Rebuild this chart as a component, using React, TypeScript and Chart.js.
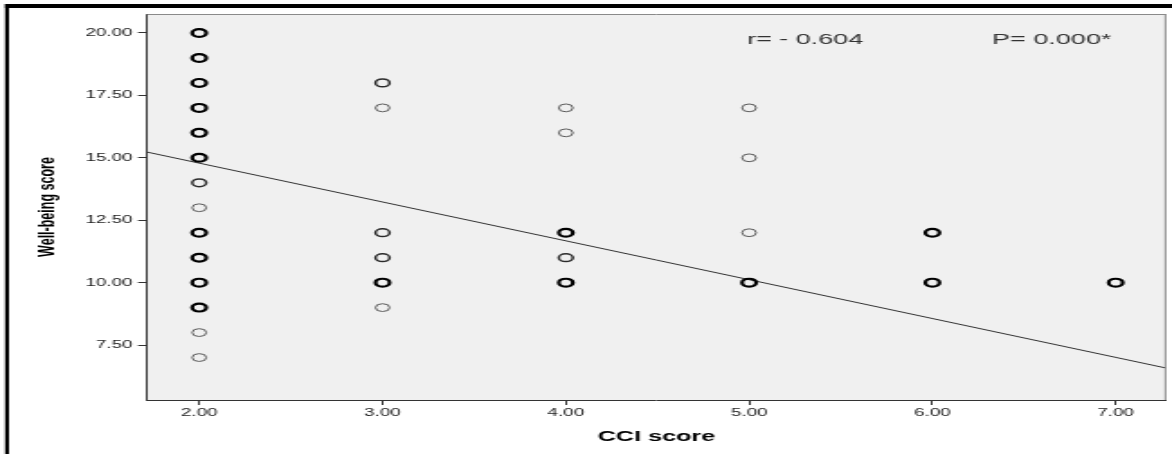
import { useEffect, useRef } from "react";
import { Chart, registerables } from "chart.js";

Chart.register(...registerables);

// ---- data ----
const xTicks = [2, 3, 4, 5, 6, 7];
const yTicks = [7.5, 10, 12.5, 15, 17.5, 20];

// cases with many overlapping respondents (thick circles)
const heavyX = [2, 2, 2, 2, 2, 2, 2, 2, 2, 2, 3, 4, 4, 5, 6, 6, 7];
const heavyY = [20, 19, 18, 17, 16, 15, 12, 11, 10, 9, 10, 12, 10, 10, 12, 10, 10];
// a few overlapping respondents (medium circles)
const mediumX = [2, 3, 3, 3, 4];
const mediumY = [14, 18, 12, 11, 11];
// single respondents (thin circles)
const lightX = [2, 2, 2, 3, 3, 4, 4, 5, 5, 5];
const lightY = [13, 8, 7, 17, 9, 17, 16, 17, 15, 12];

// fit line end points (at the x-axis limits)
const regX = [1.715, 7.2745];
const regY = [15.23, 6.58];

const annotationR = "r= - 0.604";
const annotationP = "P= 0.000*";
const xTitle = "CCI score";
const yTitle = "Well-being score";

// ---- layout ----
const OUT_W = 1172;
const H = 454;
const W = 651; // internal canvas width, stretched horizontally to OUT_W
const S = OUT_W / W;
const FONT = '"Liberation Sans", Arial, sans-serif';

const toPts = (xs: number[], ys: number[]) => xs.map((x, i) => ({ x, y: ys[i] }));

const framePlugin = {
  id: "frame",
  beforeDraw(chart: any) {
    const { ctx, chartArea } = chart;
    ctx.save();
    ctx.fillStyle = "#ffffff";
    ctx.fillRect(0, 0, W, H);
    ctx.fillStyle = "#f0f0f0";
    ctx.fillRect(chartArea.left, chartArea.top, chartArea.right - chartArea.left, chartArea.bottom - chartArea.top);
    ctx.fillStyle = "#000000";
    ctx.fillRect(5 / S, 4, 4 / S, H - 4);
    ctx.fillRect(5 / S, 4, W, 4);
    ctx.restore();
  },
  afterDraw(chart: any) {
    const { ctx, chartArea } = chart;
    ctx.save();
    ctx.strokeStyle = "#8a8a8a";
    ctx.lineWidth = 1;
    ctx.beginPath();
    ctx.moveTo(chartArea.left, chartArea.top + 0.5);
    ctx.lineTo(chartArea.right, chartArea.top + 0.5);
    ctx.moveTo(chartArea.right - 0.3, chartArea.top);
    ctx.lineTo(chartArea.right - 0.3, chartArea.bottom);
    ctx.stroke();
    ctx.fillStyle = "#333333";
    ctx.font = `15px ${FONT}`;
    ctx.textBaseline = "middle";
    ctx.textAlign = "left";
    ctx.fillText(annotationR, 747 / S, 40);
    ctx.fillText(annotationP, 992 / S, 40);
    ctx.restore();
  },
};

export default function App() {
  const ref = useRef<HTMLCanvasElement | null>(null);

  useEffect(() => {
    if (!ref.current) return;
    const chart = new Chart(ref.current, {
      type: "scatter",
      data: {
        datasets: [
          {
            label: "many",
            data: toPts(heavyX, heavyY),
            pointStyle: "circle",
            pointRadius: 3.9,
            pointBorderWidth: 2.2,
            pointBorderColor: "#000000",
            pointBackgroundColor: "rgba(0,0,0,0)",
          },
          {
            label: "few",
            data: toPts(mediumX, mediumY),
            pointStyle: "circle",
            pointRadius: 3.9,
            pointBorderWidth: 1.5,
            pointBorderColor: "#2a2a2a",
            pointBackgroundColor: "rgba(0,0,0,0)",
          },
          {
            label: "single",
            data: toPts(lightX, lightY),
            pointStyle: "circle",
            pointRadius: 3.9,
            pointBorderWidth: 1,
            pointBorderColor: "#5a5a5a",
            pointBackgroundColor: "rgba(0,0,0,0)",
          },
          {
            type: "line",
            label: "fit",
            data: toPts(regX, regY),
            showLine: true,
            borderColor: "#333333",
            borderWidth: 1,
            pointRadius: 0,
            fill: false,
          } as any,
        ],
      },
      options: {
        responsive: false,
        animation: false,
        devicePixelRatio: 1,
        layout: { autoPadding: false, padding: { top: 14, right: W - 1166 / S, left: 0, bottom: 0 } },
        plugins: { legend: { display: false }, tooltip: { enabled: false } },
        scales: {
          x: {
            type: "linear",
            min: regX[0],
            max: regX[1],
            afterBuildTicks: (s: any) => {
              s.ticks = xTicks.map((v) => ({ value: v }));
            },
            afterFit: (s: any) => {
              s.height = 54;
              s.paddingLeft = 0;
              s.paddingRight = 0;
            },
            ticks: {
              autoSkip: false,
              maxRotation: 0,
              padding: 2,
              color: "#222222",
              font: { family: FONT, size: 10.5 },
              callback: (v: any) => Number(v).toFixed(2),
            },
            grid: { drawOnChartArea: false, drawTicks: true, tickLength: 5, color: "#333333" },
            border: { display: true, color: "#333333", width: 1 },
            title: {
              display: true,
              text: xTitle,
              color: "#000000",
              font: { family: FONT, size: 14, weight: "bold" },
              padding: { top: 0, bottom: 8.6 },
            },
          },
          y: {
            type: "linear",
            min: 5.3,
            max: 20.76,
            afterBuildTicks: (s: any) => {
              s.ticks = yTicks.map((v) => ({ value: v }));
            },
            afterFit: (s: any) => {
              s.width = 147 / S;
              s.paddingTop = 0;
              s.paddingBottom = 0;
            },
            ticks: {
              autoSkip: false,
              padding: 3,
              color: "#222222",
              font: { family: FONT, size: 10.5 },
              callback: (v: any) => Number(v).toFixed(2),
            },
            grid: { drawOnChartArea: false, drawTicks: true, tickLength: 5, color: "#333333" },
            border: { display: true, color: "#333333", width: 1 },
            title: {
              display: true,
              text: yTitle,
              color: "#000000",
              font: { family: FONT, size: 12.5, weight: "bold" },
              padding: { top: 18.6, bottom: 0 },
            },
          },
        },
      },
      plugins: [framePlugin],
    });
    return () => chart.destroy();
  }, []);

  return (
    <div style={{ position: "absolute", left: 0, top: 0, width: OUT_W, height: H }}>
      <canvas ref={ref} width={W} height={H} style={{ width: OUT_W + "px", height: H + "px", display: "block" }} />
    </div>
  );
}
